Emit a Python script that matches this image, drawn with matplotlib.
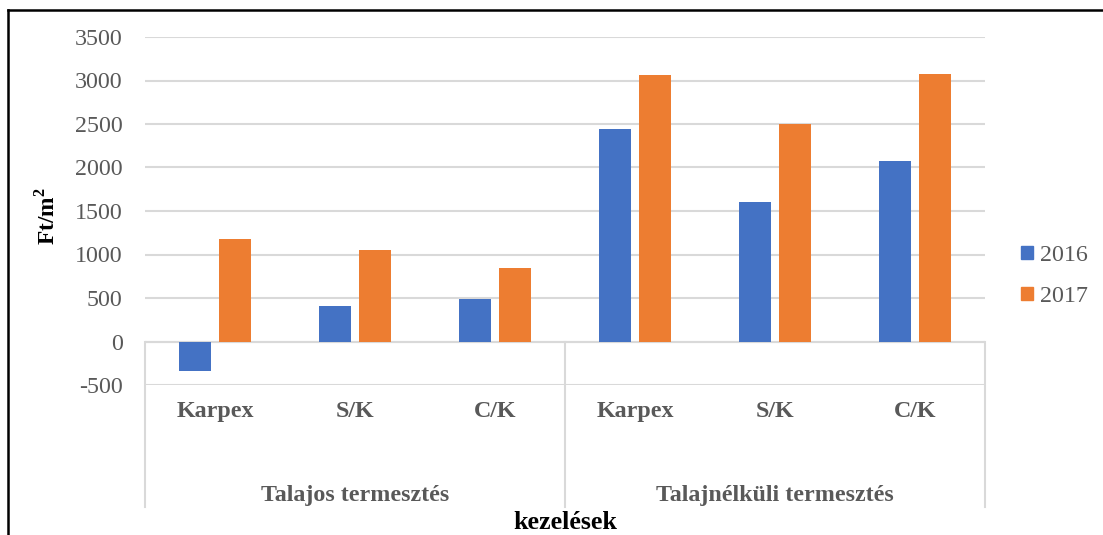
import matplotlib
matplotlib.use("Agg")
import matplotlib.pyplot as plt
import matplotlib.transforms as mtransforms
from matplotlib.lines import Line2D
from matplotlib.patches import Patch

categories = ["Karpex", "S/K", "C/K", "Karpex", "S/K", "C/K"]
groups = ["Talajos termesztés", "Talajnélküli termesztés"]
series_names = ["2016", "2017"]
values_2016 = [-340, 413, 493, 2443, 1605, 2076]
values_2017 = [1181, 1055, 849, 3062, 2503, 3073]
yticks = [-500, 0, 500, 1000, 1500, 2000, 2500, 3000, 3500]

BLUE = "#4472C4"
ORANGE = "#ED7D31"
GRID = "#D9D9D9"
TXT = "#595959"
FONT = "Liberation Serif"

plt.rcParams["font.family"] = FONT
plt.rcParams["mathtext.fontset"] = "custom"
plt.rcParams["mathtext.rm"] = "Liberation Serif"
plt.rcParams["mathtext.bf"] = "Liberation Serif:bold"

W, H = 1103, 535
fig = plt.figure(figsize=(W / 100, H / 100), dpi=100)

# plot area in pixels
L, R, T, B = 145, 985, 37, 385
ax = fig.add_axes([L / W, 1 - B / H, (R - L) / W, (B - T) / H])

n = len(categories)
x = list(range(n))
bw = 0.228
off = 0.1425
ax.bar([i - off for i in x], values_2016, width=bw, color=BLUE, zorder=3, label=series_names[0])
ax.bar([i + off for i in x], values_2017, width=bw, color=ORANGE, zorder=3, label=series_names[1])

ax.set_xlim(-0.5, n - 0.5)
ax.set_ylim(yticks[0], yticks[-1])
ax.set_yticks(yticks)
ax.set_yticklabels([str(v) for v in yticks], fontsize=17.3, color=TXT, family=FONT)
ax.tick_params(axis="y", length=0, pad=16)
ax.set_xticks([])
for s in ax.spines.values():
    s.set_visible(False)
ax.grid(axis="y", color=GRID, linewidth=1.5, zorder=0)
ax.axhline(0, color=GRID, linewidth=1.5, zorder=1)

def fy(py):
    return 1 - py / H

blend = mtransforms.blended_transform_factory(ax.transData, fig.transFigure)

# category axis separators (from 0 line down)
y0_pix = 342
bottom_pix = 507
for xs in [-0.5, 2.5, 5.5]:
    fig.add_artist(Line2D([xs, xs], [fy(y0_pix), fy(bottom_pix)], transform=blend,
                          color=GRID, linewidth=1.5))

for i, c in enumerate(categories):
    ax.text(i, fy(417), c, transform=blend, ha="center", va="baseline",
            fontsize=17.3, fontweight="bold", color=TXT, family=FONT)
for g, gname in enumerate(groups):
    ax.text(g * 3 + 1, fy(501), gname, transform=blend, ha="center", va="baseline",
            fontsize=17.3, fontweight="bold", color=TXT, family=FONT)

# axis titles
fig.text(565 / W, fy(529), "kezelések", ha="center", va="baseline",
         fontsize=18.7, fontweight="bold", color="black", family=FONT)
fig.text(47 / W, fy(216), r"Ft/m$^{\mathbf{2}}$", ha="center", va="center", rotation=90,
         fontsize=16.8, fontweight="bold", color="black", family=FONT)

# legend
handles = [Patch(color=BLUE), Patch(color=ORANGE)]
leg = fig.legend(handles, series_names, loc="center left",
                 bbox_to_anchor=(999 / W, fy(276)), frameon=False,
                 prop={"family": FONT, "size": 17.3},
                 handlelength=0.5, handleheight=0.5, handletextpad=0.3,
                 labelspacing=0.84)
for t in leg.get_texts():
    t.set_color(TXT)

# outer border (left and top)
fig.add_artist(Line2D([8 / W, 8 / W], [0, fy(10)], transform=fig.transFigure,
                      color="black", linewidth=1.8))
fig.add_artist(Line2D([8 / W, 1], [fy(10), fy(10)], transform=fig.transFigure,
                      color="black", linewidth=1.8))

fig.savefig("out.png", dpi=100, facecolor="white")
